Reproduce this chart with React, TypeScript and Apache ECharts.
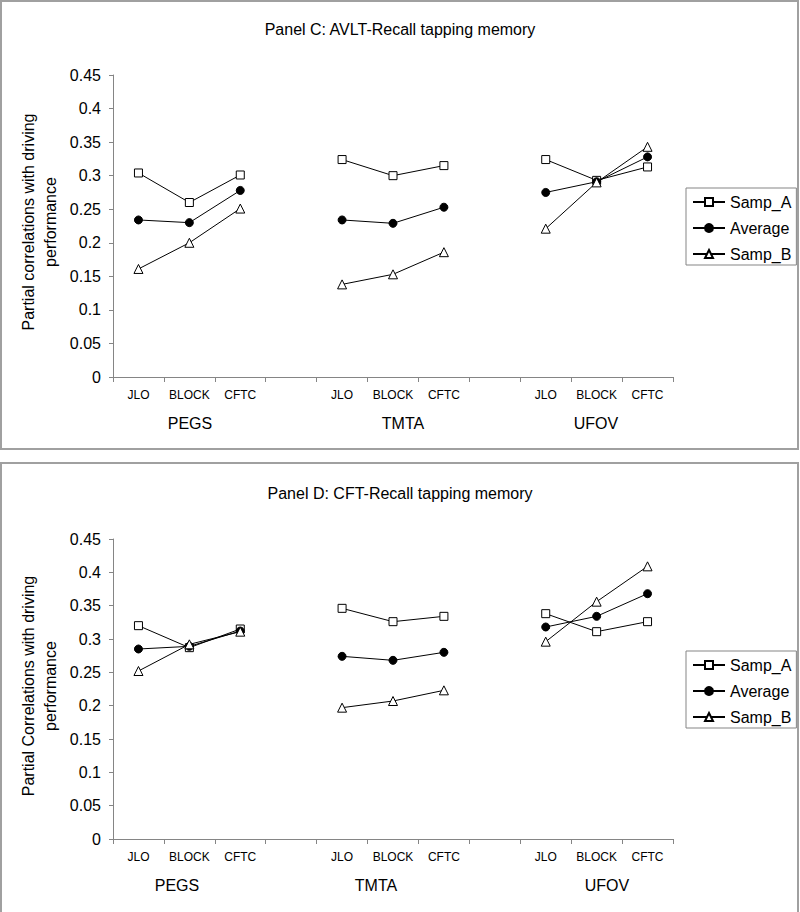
import React, { useEffect, useRef } from 'react';
import * as echarts from 'echarts';

const categories = ['JLO', 'BLOCK', 'CFTC', '', 'JLO', 'BLOCK', 'CFTC', '', 'JLO', 'BLOCK', 'CFTC'];
const groupNames = ['PEGS', 'TMTA', 'UFOV'];
const seriesNames = ['Samp_A', 'Average', 'Samp_B'];

const panelCTitle = 'Panel C: AVLT-Recall tapping memory';
const panelDTitle = 'Panel D: CFT-Recall tapping memory';
const panelCYName = 'Partial correlations with driving\nperformance';
const panelDYName = 'Partial Correlations with driving\nperformance';

const yMin = 0;
const yMax = 0.45;
const yInterval = 0.05;

const panelCSampA = [0.304, 0.26, 0.301, null, 0.324, 0.3, 0.315, null, 0.324, 0.293, 0.313];
const panelCAverage = [0.234, 0.23, 0.278, null, 0.234, 0.229, 0.253, null, 0.275, 0.291, 0.328];
const panelCSampB = [0.161, 0.2, 0.251, null, 0.138, 0.153, 0.186, null, 0.221, 0.29, 0.343];

const panelDSampA = [0.32, 0.287, 0.315, null, 0.346, 0.326, 0.334, null, 0.338, 0.311, 0.326];
const panelDAverage = [0.285, 0.289, 0.312, null, 0.274, 0.268, 0.28, null, 0.318, 0.334, 0.368];
const panelDSampB = [0.252, 0.292, 0.311, null, 0.197, 0.207, 0.223, null, 0.296, 0.356, 0.409];

const FONT = '"Liberation Sans", Arial, sans-serif';
const AXIS_GRAY = '#858585';

const symbols = ['rect', 'circle', 'triangle'];

function makeSeries(values: (number | null)[], idx: number, axisIndex: number) {
  const filled = idx === 1;
  return {
    name: seriesNames[idx],
    type: 'line',
    xAxisIndex: axisIndex,
    yAxisIndex: axisIndex,
    data: values,
    symbol: symbols[idx],
    symbolSize: idx === 2 ? 9 : 8,
    showSymbol: true,
    connectNulls: false,
    lineStyle: { color: '#000', width: 1 },
    itemStyle: filled
      ? { color: '#000', borderColor: '#000', borderWidth: 1 }
      : { color: '#fff', borderColor: '#000', borderWidth: 1 },
    emphasis: { disabled: true },
  };
}

function xAxisDef(gridIndex: number) {
  return {
    type: 'category',
    gridIndex,
    data: categories,
    boundaryGap: true,
    axisLine: { lineStyle: { color: AXIS_GRAY, width: 1 } },
    axisTick: { show: true, length: 5, lineStyle: { color: AXIS_GRAY } },
    axisLabel: {
      interval: 0,
      margin: 12,
      color: '#000',
      fontSize: 12,
      fontFamily: FONT,
    },
    splitLine: { show: false },
  };
}

function yAxisDef(gridIndex: number) {
  return {
    type: 'value',
    gridIndex,
    min: yMin,
    max: yMax,
    interval: yInterval,
    axisLine: { show: true, lineStyle: { color: AXIS_GRAY, width: 1 } },
    axisTick: { show: true, length: 4, lineStyle: { color: AXIS_GRAY } },
    axisLabel: {
      margin: 12,
      color: '#000',
      fontSize: 16,
      fontFamily: FONT,
      formatter: (v: number) => String(Math.round(v * 100) / 100),
    },
    splitLine: { show: false },
  };
}

function legendDef(top: number) {
  return {
    data: seriesNames,
    orient: 'vertical',
    left: 686,
    top,
    itemWidth: 32,
    itemHeight: 10,
    itemGap: 10,
    padding: [6, 5, 3, 6],
    borderColor: AXIS_GRAY,
    borderWidth: 1,
    backgroundColor: '#fff',
    textStyle: { color: '#000', fontSize: 16, fontFamily: FONT },
    selectedMode: false,
  };
}

function groupLabel(text: string, x: number, y: number) {
  return {
    type: 'text',
    x,
    y,
    style: {
      text,
      align: 'center',
      verticalAlign: 'middle',
      fontSize: 16,
      fontFamily: FONT,
      fill: '#000',
    },
    silent: true,
  };
}

function yName(text: string, x: number, y: number) {
  return {
    type: 'text',
    x,
    y,
    rotation: Math.PI / 2,
    style: {
      text,
      align: 'center',
      verticalAlign: 'middle',
      fontSize: 16,
      lineHeight: 22,
      fontFamily: FONT,
      fill: '#000',
    },
    silent: true,
  };
}

const groupXC = [190, 403, 596];
const groupXD = [177, 376, 607];

export default function App() {
  const ref = useRef<HTMLDivElement>(null);

  useEffect(() => {
    document.body.style.margin = '0';
    if (!ref.current) return;
    const chart = echarts.init(ref.current, null, { renderer: 'svg' });
    const option: any = {
      animation: false,
      backgroundColor: '#fff',
      title: [
        {
          text: panelCTitle,
          left: 'center',
          top: 16,
          textStyle: { color: '#000', fontSize: 16, fontWeight: 'normal', fontFamily: FONT },
        },
        {
          text: panelDTitle,
          left: 'center',
          top: 480,
          textStyle: { color: '#000', fontSize: 16, fontWeight: 'normal', fontFamily: FONT },
        },
      ],
      legend: [legendDef(188), legendDef(651)],
      grid: [
        { left: 113, top: 75, width: 560, height: 302, containLabel: false },
        { left: 113, top: 539, width: 560, height: 300, containLabel: false },
      ],
      xAxis: [xAxisDef(0), xAxisDef(1)],
      yAxis: [yAxisDef(0), yAxisDef(1)],
      series: [
        makeSeries(panelCSampA, 0, 0),
        makeSeries(panelCAverage, 1, 0),
        makeSeries(panelCSampB, 2, 0),
        makeSeries(panelDSampA, 0, 1),
        makeSeries(panelDAverage, 1, 1),
        makeSeries(panelDSampB, 2, 1),
      ],
      graphic: [
        {
          type: 'rect',
          shape: { x: 1, y: 1, width: 797, height: 448 },
          style: { fill: 'none', stroke: '#a0a0a0', lineWidth: 2 },
          silent: true,
          z: -1,
        },
        {
          type: 'rect',
          shape: { x: 1, y: 463, width: 797, height: 470 },
          style: { fill: 'none', stroke: '#a0a0a0', lineWidth: 2 },
          silent: true,
          z: -1,
        },
        ...groupNames.map((g, i) => groupLabel(g, groupXC[i], 423)),
        ...groupNames.map((g, i) => groupLabel(g, groupXD[i], 885)),
        yName(panelCYName, 39, 222),
        yName(panelDYName, 39, 686),
      ],
    };
    chart.setOption(option);
    return () => {
      chart.dispose();
    };
  }, []);

  return <div ref={ref} style={{ width: 800, height: 912 }} />;
}
